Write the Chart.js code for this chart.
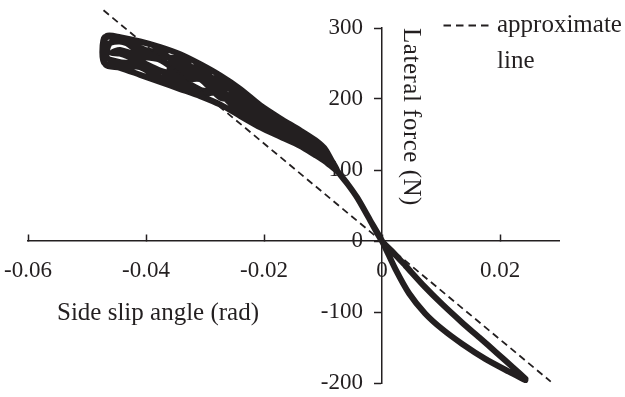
<!DOCTYPE html>
<html>
<head>
<meta charset="utf-8">
<title>Lateral force vs side slip angle</title>
<script src="https://cdn.jsdelivr.net/npm/chart.js@4.4.1/dist/chart.umd.min.js"></script>
<style>
    html, body { margin: 0; padding: 0; background: #fff; }
    #wrap { width: 625px; height: 397px; position: relative; }
</style>
</head>
<body>
<div id="wrap"><canvas id="forceChart"></canvas></div>
<script>
// ──────────────────────────────────────
// Data
// ──────────────────────────────────────

// measured trace: tip -> upper branch -> origin -> loops in the band -> origin -> lower branch -> tip
const slipAngle = [
    0.0243, 0.0222, 0.0195, 0.0165, 0.0136, 0.0102, 0.0073, 0.0040, 0.0020, 0,
    -0.0020, -0.0042, -0.0058, -0.0076,
    // loop A
    -0.0096, -0.0113, -0.0139, -0.0173, -0.0206, -0.0240, -0.0274, -0.0308, -0.0342, -0.0376, -0.0410, -0.0444,
    -0.0466, -0.0473, -0.0468,
    -0.0444, -0.0410, -0.0376, -0.0342, -0.0308, -0.0274, -0.0240, -0.0206, -0.0173, -0.0139, -0.0113, -0.0096, -0.0076,
    // loop B
    -0.0096, -0.0113, -0.0139, -0.0173, -0.0206, -0.0240, -0.0274, -0.0308, -0.0342, -0.0376, -0.0410, -0.0444,
    -0.0462, -0.0466,
    -0.0444, -0.0410, -0.0376, -0.0342, -0.0308, -0.0274, -0.0240, -0.0206, -0.0173, -0.0139, -0.0113, -0.0096, -0.0076,
    // loop C
    -0.0096, -0.0113, -0.0139, -0.0173, -0.0206, -0.0240, -0.0274, -0.0308, -0.0342, -0.0376, -0.0410, -0.0444,
    -0.0458,
    -0.0444, -0.0410, -0.0376, -0.0342, -0.0308, -0.0274, -0.0240, -0.0206, -0.0173, -0.0139, -0.0113, -0.0096, -0.0076,
    // loop D
    -0.0096, -0.0113, -0.0139, -0.0173, -0.0206, -0.0240, -0.0274, -0.0308, -0.0342, -0.0376, -0.0410, -0.0444,
    -0.0470, -0.0474, -0.0470,
    -0.0444, -0.0410, -0.0376, -0.0342, -0.0308, -0.0274, -0.0240, -0.0206, -0.0173, -0.0139, -0.0113, -0.0096, -0.0076,
    // loop E (short)
    -0.0096, -0.0113, -0.0139, -0.0173, -0.0206, -0.0240, -0.0274, -0.0308, -0.0342,
    -0.0360,
    -0.0342, -0.0308, -0.0274, -0.0240, -0.0206, -0.0173, -0.0139, -0.0113, -0.0096, -0.0076,
    -0.0058, -0.0042, -0.0020, 0,
    0.0023, 0.0046, 0.0073, 0.0102, 0.0136, 0.0175, 0.0215, 0.0243
];
const lateralForce = [
    -194, -178, -158, -136, -115, -89, -65, -35, -17, 0,
    29, 61, 80, 99,
    // loop A
    129, 142, 156, 173, 191, 214, 233, 249, 263, 273, 281, 287,
    289, 270, 248,
    244, 234, 224, 214, 204, 192, 176, 160, 147, 134, 121, 112, 99,
    // loop B
    126, 136, 153, 165, 185, 201, 225, 236, 256, 260, 272, 281,
    278, 258,
    252, 249, 231, 228, 213, 206, 181, 169, 152, 142, 125, 116, 99,
    // loop C
    121, 134, 144, 163, 174, 198, 210, 232, 237, 255, 260, 269,
    265,
    264, 253, 240, 233, 228, 202, 198, 171, 161, 143, 131, 119, 99,
    // loop D
    127, 141, 147, 170, 180, 212, 217, 245, 244, 268, 266, 285,
    287, 266, 250,
    246, 245, 229, 223, 206, 210, 181, 172, 148, 144, 123, 118, 99,
    // loop E (short)
    124, 138, 149, 161, 183, 206, 221, 228, 251,
    243,
    228, 228, 211, 190, 176, 163, 145, 134, 122, 99,
    80, 61, 29, 0,
    -40, -74, -102, -124, -145, -166, -184, -196
];

// approximate (linear) line end points
const approxSlip = [-0.0472, 0.0286];
const approxForce = [325, -198];

const xTicks = [-0.06, -0.04, -0.02, 0, 0.02];
const yTicks = [-200, -100, 0, 100, 200, 300];

const xTitle = 'Side slip angle (rad)';
const yTitle = 'Lateral force (N)';
const legendLines = ['approximate', 'line'];

// ──────────────────────────────────────
// Style
// ──────────────────────────────────────

const INK = '#231f20';
const SERIF = "'Liberation Serif', 'Times New Roman', serif";

// linear scale whose labels keep the tick + padding gap when the axis sits at x = 0
class CrossLinearScale extends Chart.LinearScale {
    static id = 'crossLinear';
    _computeLabelItems(chartArea) {
        const items = super._computeLabelItems(chartArea);
        if (!this.isHorizontal()) {
            const shift = this.options.grid.tickLength + this.options.ticks.padding;
            items.forEach(item => {
                const t = item.options.translation;
                item.options.translation = [t[0] - shift, t[1]];
            });
        }
        return items;
    }
}
Chart.register(CrossLinearScale);

// titles + legend drawn at fixed spots like the original figure
const figureText = {
    id: 'figureText',
    beforeDatasetsDraw(chart) {
        const ctx = chart.ctx;
        const approx = chart.data.datasets[1];

        ctx.save();
        ctx.fillStyle = INK;
        ctx.font = '25px ' + SERIF;

        // x title
        ctx.textAlign = 'center';
        ctx.textBaseline = 'middle';
        ctx.fillText(xTitle, 158, 313);

        // y title (reads top to bottom)
        ctx.save();
        ctx.letterSpacing = '0.5px';
        ctx.translate(411, 117);
        ctx.rotate(Math.PI / 2);
        ctx.fillText(yTitle, 0, 0);
        ctx.restore();

        // legend
        ctx.strokeStyle = approx.borderColor;
        ctx.lineWidth = approx.borderWidth;
        ctx.setLineDash([7.5, 5]);
        ctx.beginPath();
        ctx.moveTo(443.5, 25.5);
        ctx.lineTo(489, 25.5);
        ctx.stroke();
        ctx.setLineDash([]);

        ctx.textAlign = 'left';
        ctx.textBaseline = 'alphabetic';
        ctx.fillText(legendLines[0], 497, 31.5);
        ctx.fillText(legendLines[1], 497, 67.5);
        ctx.restore();
    }
};

const tickFont = { size: 23, family: SERIF };

new Chart(document.getElementById('forceChart'), {
    type: 'scatter',
    data: {
        datasets: [
            {
                label: 'measured',
                data: slipAngle.map((x, i) => ({ x: x, y: lateralForce[i] })),
                showLine: true,
                borderColor: INK,
                backgroundColor: INK,
                borderWidth: 6,
                borderJoinStyle: 'round',
                borderCapStyle: 'round',
                pointRadius: 0,
                tension: 0.25,
                order: 1,
            },
            {
                label: 'approximate line',
                data: approxSlip.map((x, i) => ({ x: x, y: approxForce[i] })),
                showLine: true,
                borderColor: INK,
                borderWidth: 1.8,
                borderDash: [7, 4.5],
                pointRadius: 0,
                clip: false,
                order: 0,
            }
        ]
    },
    options: {
        responsive: true,
        maintainAspectRatio: false,
        animation: false,
        events: [],
        layout: { padding: { left: 28, right: 66, top: 28, bottom: 14 } },
        plugins: {
            legend: { display: false },
            tooltip: { enabled: false },
        },
        scales: {
            x: {
                type: 'crossLinear',
                min: -0.06,
                max: 0.03,
                position: { y: 0 },
                afterBuildTicks: scale => { scale.ticks = xTicks.map(v => ({ value: v })); },
                afterFit: scale => { scale.paddingLeft = 0; scale.paddingRight = 0; },
                grid: {
                    drawOnChartArea: false,
                    tickLength: -7,
                    tickColor: INK,
                    tickWidth: 1.5,
                },
                border: { color: INK, width: 1.5 },
                ticks: {
                    color: INK,
                    font: tickFont,
                    padding: 23,
                    maxRotation: 0,
                    callback: v => String(Number(v.toFixed(2))),
                },
            },
            y: {
                type: 'crossLinear',
                min: -200,
                max: 300,
                position: { x: 0 },
                afterBuildTicks: scale => { scale.ticks = yTicks.map(v => ({ value: v })); },
                afterFit: scale => { scale.paddingTop = 0; scale.paddingBottom = 0; },
                grid: {
                    drawOnChartArea: false,
                    tickLength: 7,
                    tickColor: INK,
                    tickWidth: 1.5,
                },
                border: { color: INK, width: 1.5 },
                ticks: {
                    color: INK,
                    font: tickFont,
                    padding: 12,
                    callback: v => String(v),
                },
            }
        }
    },
    plugins: [figureText]
});
</script>
</body>
</html>
